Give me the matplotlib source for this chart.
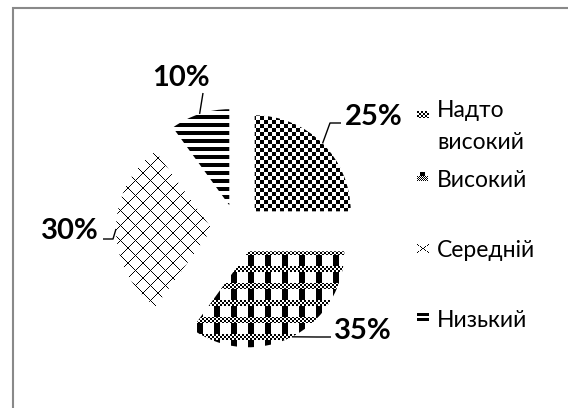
import numpy as np
import matplotlib
matplotlib.use('Agg')
import matplotlib.pyplot as plt
from matplotlib.patches import Rectangle

# ---- data ----
categories = ['Надто\nвисокий', 'Високий', 'Середній', 'Низький']
values = [25, 35, 30, 10]
pct_labels = ['25%', '35%', '30%', '10%']

# ---- layout ----
W, H = 568, 408
plt.rcParams['font.family'] = ['Lato', 'DejaVu Sans']
fig = plt.figure(figsize=(W / 100, H / 100), dpi=100)
ax = fig.add_axes([0, 0, 1, 1])

CX, CY_IMG, R, EXPL = 237, 229, 96, 25
wedges, _ = ax.pie(values, startangle=90, counterclock=False,
                   explode=[EXPL] * len(values), radius=R,
                   center=(CX, H - CY_IMG), colors=['white'] * len(values),
                   wedgeprops=dict(linewidth=0))

# ---- textures (image pixel grid) ----
yy, xx = np.mgrid[0:H, 0:W]
t_check = ((yy // 4 + xx // 4) % 2 == 0)
band = ((yy - 249) % 17) < 6
fine = ((yy // 2 + xx // 2) % 2 == 0)
bars = ((xx - 248) % 17) < 6
t_plaid = np.where(band, fine, bars)
t_cross = (((yy + xx) % 15) == 0) | (((yy - xx) % 15) == 0)
t_stripe = ((yy - 115) % 8) < 4
textures = [t_check, t_plaid, t_cross, t_stripe]


def to_rgba(mask):
    img = np.ones(mask.shape + (4,))
    img[mask, :3] = 0.0
    return img


for w, t in zip(wedges, textures):
    im = ax.imshow(to_rgba(t), extent=(0, W, 0, H), origin='upper',
                   interpolation='nearest', zorder=2)
    im.set_clip_path(w)

# ---- data labels with leader lines ----
label_layout = [
    # (elbow_img, end_img, text_xy_img, ha)
    ((330, 123), (341, 123), (345, 125), 'left'),
    ((317, 337), (331, 337), (334, 339), 'left'),
    ((113, 239), (103, 239), (99, 239), 'right'),
    ((203, 93), (203, 93), (181, 86), 'center'),
]
for w, lab, (elb, end, txy, ha) in zip(wedges, pct_labels, label_layout):
    th = np.deg2rad((w.theta1 + w.theta2) / 2)
    px = w.center[0] + w.r * np.cos(th)
    py = w.center[1] + w.r * np.sin(th)
    ax.plot([px, elb[0], end[0]], [py, H - elb[1], H - end[1]],
            color='black', lw=1.0, zorder=3, solid_capstyle='butt')
    ax.text(txy[0], H - txy[1], lab, ha=ha, va='baseline',
            fontsize=21, fontweight='bold', color='black', zorder=4)

# ---- legend (manual, Excel-like layout) ----
LEG_FS = 16.5
leg_text_x = 437
leg_lines = [(categories[0].split('\n')[0], 117),
             (categories[0].split('\n')[1], 149),
             (categories[1], 187),
             (categories[2], 257),
             (categories[3], 327)]
for lab, yb in leg_lines:
    ax.text(leg_text_x, H - yb, lab, ha='left', va='baseline',
            fontsize=LEG_FS, color='black', zorder=4)

# legend markers (small pattern swatches)
def swatch(x0, y0, arr):
    h, w_ = arr.shape
    ax.imshow(to_rgba(arr), extent=(x0, x0 + w_, H - y0 - h, H - y0),
              origin='upper', interpolation='nearest', zorder=4)

sy, sx = np.mgrid[0:7, 0:12]
swatch(417, 111, ((sy // 2 + sx // 2) % 2 == 0))
m2 = np.zeros((9, 11), bool)
m2[0:4, 3:8] = True
f2y, f2x = np.mgrid[0:5, 0:11]
m2[4:9, :] = ((f2y + f2x) % 2 == 0)
swatch(417, 172, m2)
m3 = np.zeros((9, 12), bool)
for i in range(9):
    j1 = int(round(i * 11 / 8))
    m3[i, j1] = True
    m3[i, 11 - j1] = True
swatch(417, 244, m3)
m4 = np.zeros((8, 12), bool)
m4[0:3, :] = True
m4[5:8, :] = True
swatch(417, 313, m4)

# ---- outer frame (only top/left visible) ----
ax.add_patch(Rectangle((12.5, -20), W + 40, H - 7.5 + 20, fill=False,
                       edgecolor='#898989', lw=1.5, zorder=1))

ax.set_xlim(0, W)
ax.set_ylim(0, H)
ax.set_aspect('auto')
ax.axis('off')
fig.savefig('out.png', dpi=100)
